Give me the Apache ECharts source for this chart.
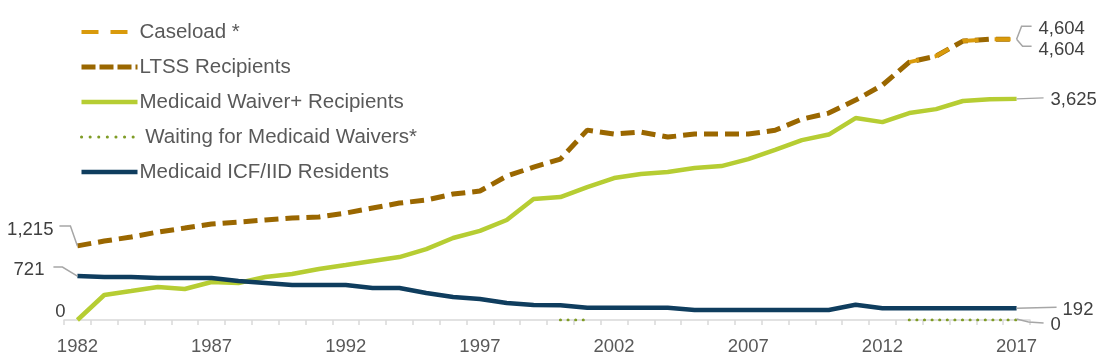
<!DOCTYPE html>
<html>
<head>
<meta charset="utf-8">
<script src="https://cdn.jsdelivr.net/npm/echarts@6/dist/echarts.min.js"></script>
<style>
html,body{margin:0;padding:0;background:#fff;}
#chart{width:1112px;height:363px;}
</style>
</head>
<body>
<div id="chart"></div>
<script>
const years = ['1982','1983','1984','1985','1986','1987','1988','1989','1990','1991','1992','1993','1994','1995','1996','1997','1998','1999','2000','2001','2002','2003','2004','2005','2006','2007','2008','2009','2010','2011','2012','2013','2014','2015','2016','2017'];
const caseload = [null,null,null,null,null,null,null,null,null,null,null,null,null,null,null,null,null,null,null,null,null,null,null,null,null,null,null,null,null,null,null,4228,4326,4572,4604,4604];
const ltss = [1215,1294,1360,1442,1507,1573,1606,1639,1671,1690,1753,1835,1917,1966,2065,2114,2359,2507,2638,3113,3048,3080,2999,3048,3048,3048,3110,3293,3392,3605,3851,4228,4326,4572,4604,4604];
const waiver = [0,410,475,541,508,623,606,705,754,836,901,967,1032,1163,1344,1460,1639,1983,2015,2179,2327,2392,2425,2491,2523,2638,2790,2949,3040,3310,3244,3392,3457,3590,3620,3625];
const waiting = [null,null,null,null,null,null,null,null,null,null,null,null,null,null,null,null,null,null,0,0,null,null,null,null,null,null,null,null,null,null,null,0,0,0,0,0];
const icf = [721,705,705,688,688,688,639,606,573,573,573,524,524,442,377,344,279,246,240,200,200,200,200,165,165,165,165,165,165,250,192,192,192,192,192,192];

const FONT = '"Liberation Sans", Arial, sans-serif';
const chart = echarts.init(document.getElementById('chart'));

const option = {
  animation: false,
  backgroundColor: '#fff',
  grid: {left: 64, right: 82, top: 15, bottom: 43, containLabel: false},
  legend: {
    orient: 'vertical', left: 79, top: 21, padding: 0,
    itemWidth: 56, itemHeight: 14, itemGap: 13,
    itemStyle: {opacity: 0},
    textStyle: {fontFamily: FONT, fontSize: 20.5, color: '#595959', lineHeight: 22, padding: [0, 0, 0, -3]},
    formatter: n => n.indexOf('Waiting') === 0 ? ' ' + n : n,
    data: [
      {name: 'Caseload *', lineStyle: {width: 4, type: [17, 12], dashOffset: 0}},
      {name: 'LTSS Recipients', lineStyle: {width: 5, type: [14, 4]}},
      {name: 'Medicaid Waiver+ Recipients', lineStyle: {width: 4.5}},
      {name: 'Waiting for Medicaid Waivers*', lineStyle: {width: 3, type: [0.1, 8.5]}},
      {name: 'Medicaid ICF/IID Residents', lineStyle: {width: 4.5}}
    ]
  },
  xAxis: {
    type: 'category', data: years, boundaryGap: true,
    axisLine: {lineStyle: {color: '#D9D9D9', width: 1.5}},
    axisTick: {show: true, interval: 0, length: 5, lineStyle: {color: '#D9D9D9', width: 1.5}},
    axisLabel: {interval: 4, fontFamily: FONT, fontSize: 18.5, color: '#595959', margin: 17}
  },
  yAxis: {
    type: 'value', min: 0, max: 5000, interval: 1000,
    show: false, splitLine: {show: false}
  },
  series: [
    {name: 'LTSS Recipients', type: 'line', data: ltss, symbol: 'none', z: 3,
     lineStyle: {color: '#9A6700', width: 5, type: [14, 7]}, itemStyle: {color: '#9A6700'}},
    {name: 'Caseload *', type: 'line', data: caseload, symbol: 'none', z: 4,
     lineStyle: {color: '#D99A0B', width: 4, type: [16, 16], dashOffset: 6}, itemStyle: {color: '#D99A0B'}},
    {name: 'Medicaid Waiver+ Recipients', type: 'line', data: waiver, symbol: 'none', z: 3,
     lineStyle: {color: '#B6CD33', width: 4.5}, itemStyle: {color: '#B6CD33'}},
    {name: 'Waiting for Medicaid Waivers*', type: 'line', data: waiting, symbol: 'none', z: 5,
     lineStyle: {color: '#7F9C26', width: 3, type: [0.1, 7.5], cap: 'round'}, itemStyle: {color: '#7F9C26'}},
    {name: 'Medicaid ICF/IID Residents', type: 'line', data: icf, symbol: 'none', z: 3,
     lineStyle: {color: '#0F3D5E', width: 4.5}, itemStyle: {color: '#0F3D5E'}}
  ]
};
chart.setOption(option);

// value labels with leader lines, anchored to data points through the chart's scales
function px(i, v) { return chart.convertToPixel({gridIndex: 0}, [i, v]); }
const last = years.length - 1;
const LC = '#A6A6A6';
const g = [];
function txt(x, y, s, align) {
  g.push({type: 'text', x: x, y: y, style: {text: s, fill: '#404040', font: '18.5px ' + FONT, align: align, verticalAlign: 'middle'}, z: 10});
}
function pl(pts) {
  g.push({type: 'polyline', shape: {points: pts}, style: {stroke: LC, lineWidth: 1.5, fill: null}, z: 9});
}
// left
let p = px(0, ltss[0]);
pl([[p[0], p[1]], [p[0] - 7, p[1] - 20], [p[0] - 18, p[1] - 20]]);
txt(p[0] - 24, p[1] - 16, ltss[0].toLocaleString('en-US'), 'right');
p = px(0, icf[0]);
pl([[p[0], p[1]], [p[0] - 15, p[1] - 9], [p[0] - 24, p[1] - 9]]);
txt(p[0] - 33, p[1] - 6, String(icf[0]), 'right');
p = px(0, waiver[0]);
txt(p[0] - 12, p[1] - 8, String(waiver[0]), 'right');
// right
p = px(last, ltss[last]);
pl([[p[0], p[1]], [p[0] + 5, p[1] - 13], [p[0] + 15, p[1] - 13]]);
txt(p[0] + 22, p[1] - 10, ltss[last].toLocaleString('en-US'), 'left');
p = px(last, caseload[last]);
pl([[p[0], p[1]], [p[0] + 6, p[1] + 7], [p[0] + 15, p[1] + 7]]);
txt(p[0] + 22, p[1] + 11, caseload[last].toLocaleString('en-US'), 'left');
p = px(last, waiver[last]);
pl([[p[0], p[1]], [p[0] + 27, p[1] - 1]]);
txt(p[0] + 34, p[1] + 1, waiver[last].toLocaleString('en-US'), 'left');
p = px(last, icf[last]);
pl([[p[0], p[1]], [p[0] + 40, p[1] - 1]]);
txt(p[0] + 46, p[1] + 2, String(icf[last]), 'left');
p = px(last, waiting[last]);
pl([[p[0], p[1] - 1], [p[0] + 12, p[1] + 2], [p[0] + 27, p[1] + 3]]);
txt(p[0] + 34, p[1] + 5, String(waiting[last]), 'left');

chart.setOption({graphic: {elements: g}});
</script>
</body>
</html>
